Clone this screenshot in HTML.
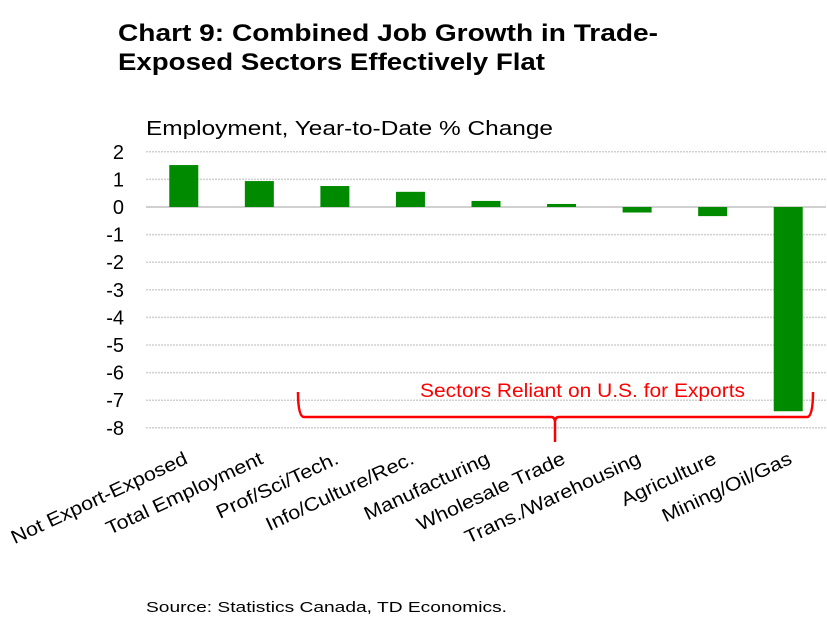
<!DOCTYPE html>
<html><head><meta charset="utf-8"><style>
body{margin:0;background:#fff;width:827px;height:617px;overflow:hidden;font-family:"Liberation Sans",sans-serif}
</style></head><body>
<svg width="827" height="617">
<text x="118" y="41" font-size="24" font-weight="bold" fill="#000" textLength="540" lengthAdjust="spacingAndGlyphs">Chart 9: Combined Job Growth in Trade-</text>
<text x="118" y="70" font-size="24" font-weight="bold" fill="#000" textLength="427" lengthAdjust="spacingAndGlyphs">Exposed Sectors Effectively Flat</text>
<text x="146" y="135" font-size="20" fill="#000" textLength="407" lengthAdjust="spacingAndGlyphs">Employment, Year-to-Date % Change</text>
<g id="grid"></g><g id="bars"></g><g id="xl"></g>
<path d="M298,392 Q298,417 304,417 L551,417 Q555,417 555,422 L555,442 M555,422 Q555,417 559,417 L807,417 Q813,417 813,392" fill="none" stroke="#ff0000" stroke-width="2.5"/>
<text x="420" y="397" font-size="19" fill="#ff0000" textLength="325" lengthAdjust="spacingAndGlyphs">Sectors Reliant on U.S. for Exports</text>
<text x="146" y="612" font-size="15" fill="#000" textLength="361" lengthAdjust="spacingAndGlyphs">Source: Statistics Canada, TD Economics.</text>
</svg>
<script>
const categories=["Not Export-Exposed","Total Employment","Prof/Sci/Tech.","Info/Culture/Rec.","Manufacturing","Wholesale Trade","Trans./Warehousing","Agriculture","Mining/Oil/Gas"];
const values=[1.52,0.94,0.76,0.55,0.22,0.11,-0.2,-0.33,-7.4];
const ticks=[2,1,0,-1,-2,-3,-4,-5,-6,-7,-8];
const NS="http://www.w3.org/2000/svg";
const x0=146,x1=826,y=v=>207-v*27.6,bw=(x1-x0)/categories.length;
function mk(t,a,p){const e=document.createElementNS(NS,t);for(const k in a)e.setAttribute(k,a[k]);p.appendChild(e);return e;}
const g=document.getElementById('grid'),b=document.getElementById('bars'),xl=document.getElementById('xl');
ticks.forEach(t=>{
 const l=mk('line',{x1:x0,x2:x1,y1:y(t),y2:y(t),stroke:'#d0d0d0','stroke-width':t===0?2:1.5,'stroke-dasharray':t===0?'':'2,1'},g);
 
 
 const tx=mk('text',{x:124,y:y(t)+7,'font-size':20,'text-anchor':'end'},g);tx.textContent=t;
 
 
});
categories.forEach((c,i)=>{
 const cx=x0+bw*(i+0.5),v=values[i];
 const r=mk('rect',{x:cx-14.5,width:29,y:Math.min(y(v),y(0)),height:Math.abs(y(v)-y(0)),fill:'#008a00'},b);
 
 
 const t=mk('text',{x:cx+5,y:463,'font-size':19,'text-anchor':'end',transform:`rotate(-25 ${cx+5} 463)`},xl);t.textContent=c;
 
 
 const w=t.getComputedTextLength();
 t.setAttribute('textLength',w*1.13);
 t.setAttribute('lengthAdjust','spacingAndGlyphs');
});
</script>
</body></html>
